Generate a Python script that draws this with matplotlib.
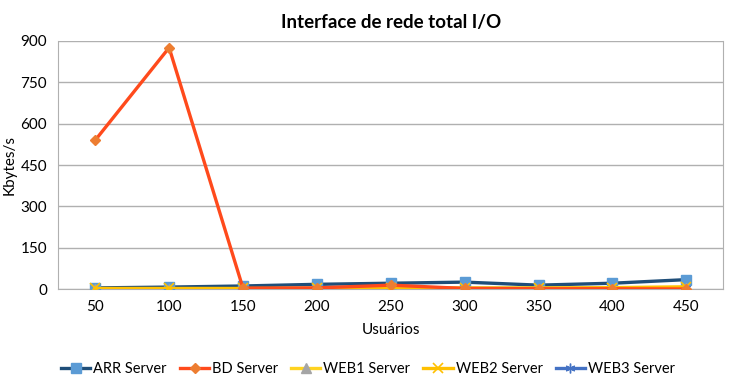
import numpy as np
import matplotlib
matplotlib.use("Agg")
import matplotlib.pyplot as plt

plt.rcParams['font.family'] = ['Lato', 'DejaVu Sans']

usuarios = [50, 100, 150, 200, 250, 300, 350, 400, 450]
arr = [5, 8, 12, 18, 22, 26, 15, 22, 35]
bd = [540, 875, 4, 5, 15, 3, 2, 2, 1]
web1 = [1, 1, 1, 2, 2, 2, 2, 2, 3]
web2 = [3, 3, 3, 4, 5, 5, 5, 6, 9]
web3 = [2, 2, 2, 3, 3, 3, 3, 3, 4]
yticks = [0, 150, 300, 450, 600, 750, 900]

fig = plt.figure(figsize=(7.36, 3.92), dpi=100)
ax = fig.add_axes([0.0792, 0.262, 0.9035, 0.634])

x = np.arange(len(usuarios))
lw = 2.4
ax.plot(x, arr, color='#1F4E79', lw=lw, marker='s', ms=7,
        mfc='#5B9BD5', mec='#5B9BD5', label='ARR Server', zorder=3)
ax.plot(x, bd, color='#FF4A1C', lw=lw, marker='D', ms=5,
        mfc='#ED7D31', mec='#ED7D31', label='BD Server', zorder=4)
ax.plot(x, web1, color='#FFD320', lw=lw, marker='^', ms=7,
        mfc='#A5A5A5', mec='#A5A5A5', label='WEB1 Server', zorder=3)
ax.plot(x, web2, color='#FFC000', lw=lw, marker='x', ms=7,
        mec='#FFC000', mew=1.2, label='WEB2 Server', zorder=3)
ax.plot(x, web3, color='#4472C4', lw=lw, marker=(6, 2, 0), ms=7,
        mec='#4472C4', mew=1, label='WEB3 Server', zorder=2)

ax.set_xlim(-0.5, len(usuarios) - 0.5)
ax.set_ylim(0, 900)
ax.set_yticks(yticks)
ax.set_xticks(x)
ax.set_xticklabels([str(u) for u in usuarios])
ax.yaxis.grid(True, color='#B0B0B0', lw=1)
ax.set_axisbelow(True)
for s in ['left', 'right', 'bottom', 'top']:
    ax.spines[s].set_color('#B0B0B0')
ax.spines['top'].set_visible(False)
ax.tick_params(length=0, labelsize=11, pad=8)

ax.set_title('Interface de rede total I/O', fontsize=13.5, fontweight='bold', pad=9)
ax.set_xlabel('Usuários', fontsize=11, labelpad=6)
ax.set_ylabel('Kbytes/s', fontsize=11)
ax.yaxis.set_label_coords(-0.062, 0.5)

fig.legend(loc='center', bbox_to_anchor=(0.5, 0.058), ncol=5, frameon=False,
           fontsize=10.5, handlelength=2, columnspacing=0.9, handletextpad=0.2)

fig.savefig('out.png', dpi=100)
